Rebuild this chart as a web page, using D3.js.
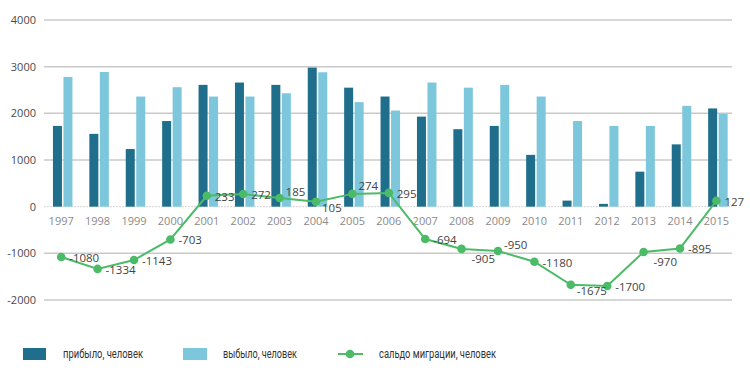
<!DOCTYPE html>
<html><head><meta charset="utf-8">
<script src="https://cdn.jsdelivr.net/npm/d3@7/dist/d3.min.js"></script>
<style>body{margin:0;background:#fff}svg{display:block;font-family:"Open Sans",Lato,sans-serif}</style>
</head><body><svg id="c" width="750" height="371"></svg>
<script>
const years = ["1997","1998","1999","2000","2001","2002","2003","2004","2005","2006","2007","2008","2009","2010","2011","2012","2013","2014","2015"];
const arrived = [1730,1560,1235,1835,2610,2660,2610,2980,2550,2360,1930,1660,1730,1110,130,60,750,1335,2105];
const departed = [2780,2885,2360,2560,2360,2360,2430,2880,2240,2060,2660,2550,2610,2360,1835,1730,1730,2160,1990];
const balance = [-1080,-1334,-1143,-703,233,272,185,105,274,295,-694,-905,-950,-1180,-1675,-1700,-970,-895,127];
const yTicks = [-2000,-1000,0,1000,2000,3000,4000];
const labelPlace = ["r","r","r","r","r","r","ra","rb","a","r","r","b","ra","r","rb","r","b","r","r"];
const seriesNames = ["прибыло, человек","выбыло, человек","сальдо миграции, человек"];

const C_DARK="#1f6e8c", C_LIGHT="#7dc7dc", C_GREEN="#4cbb68";
const svg=d3.select("#c");
const x=d3.scaleBand().domain(years).range([44,735.6]);
const y=d3.scaleLinear().domain([-2000,4000]).range([300,20]);
const bw=9, gap=1.5;

// grid
svg.append("g").selectAll("line").data(yTicks).join("line")
  .attr("x1",44).attr("x2",732).attr("y1",d=>y(d)).attr("y2",d=>y(d))
  .attr("stroke",d=>d===0?"#d4d4d4":"#cacaca").attr("stroke-width",d=>d===0?1:1.5)
  .attr("stroke-dasharray",d=>d===0?"2,1":null);
svg.append("g").selectAll("text").data(yTicks).join("text")
  .attr("x",36).attr("y",d=>y(d)).attr("dy","0.35em").attr("text-anchor","end")
  .attr("font-size",11).attr("fill","#4a4a4a").text(d=>d);

const cx=d=>x(d)+x.bandwidth()/2;
// bars
svg.append("g").selectAll("rect").data(years).join("rect")
  .attr("x",d=>cx(d)-bw-gap/2+0.5).attr("width",bw)
  .attr("y",(d,i)=>y(arrived[i])).attr("height",(d,i)=>y(0)-y(arrived[i])).attr("fill",C_DARK);
svg.append("g").selectAll("rect").data(years).join("rect")
  .attr("x",d=>cx(d)+gap/2+0.5).attr("width",bw)
  .attr("y",(d,i)=>y(departed[i])).attr("height",(d,i)=>y(0)-y(departed[i])).attr("fill",C_LIGHT);

// x labels
svg.append("g").selectAll("text").data(years).join("text")
  .attr("x",d=>cx(d)-1).attr("y",221).attr("dy","0.35em").attr("text-anchor","middle")
  .attr("font-size",11).attr("fill","#8a8a8a").text(d=>d);

// line
const line=d3.line().x((d,i)=>cx(years[i])-1).y(d=>y(d));
svg.append("path").datum(balance).attr("d",line).attr("fill","none").attr("stroke",C_GREEN).attr("stroke-width",2);
svg.append("g").selectAll("circle").data(balance).join("circle")
  .attr("cx",(d,i)=>cx(years[i])-1).attr("cy",d=>y(d)).attr("r",4.3).attr("fill",C_GREEN);
const off={r:[8,1],ra:[6,-6],rb:[6,6],a:[6,-8],b:[10,10]};
svg.append("g").selectAll("text").data(balance).join("text")
  .attr("x",(d,i)=>cx(years[i])-1+off[labelPlace[i]][0])
  .attr("y",(d,i)=>y(d)+off[labelPlace[i]][1]).attr("dy","0.35em")
  .attr("font-size",11.5).attr("fill","#444").text(d=>d);

// legend
const lg=svg.append("g").attr("font-size",12.5).attr("fill","#333").attr("font-family","Roboto, sans-serif");
lg.append("rect").attr("x",23).attr("y",348).attr("width",23).attr("height",12).attr("fill",C_DARK);
lg.append("text").attr("x",63).attr("y",354).attr("dy","0.35em").attr("textLength",80).attr("lengthAdjust","spacingAndGlyphs").text(seriesNames[0]);
lg.append("rect").attr("x",183).attr("y",348).attr("width",24).attr("height",12).attr("fill",C_LIGHT);
lg.append("text").attr("x",223).attr("y",354).attr("dy","0.35em").attr("textLength",74).attr("lengthAdjust","spacingAndGlyphs").text(seriesNames[1]);
lg.append("line").attr("x1",338).attr("x2",363).attr("y1",354).attr("y2",354).attr("stroke",C_GREEN).attr("stroke-width",2);
lg.append("circle").attr("cx",350).attr("cy",354).attr("r",4.3).attr("fill",C_GREEN);
lg.append("text").attr("x",379).attr("y",354).attr("dy","0.35em").attr("textLength",117).attr("lengthAdjust","spacingAndGlyphs").text(seriesNames[2]);
</script></body></html>
